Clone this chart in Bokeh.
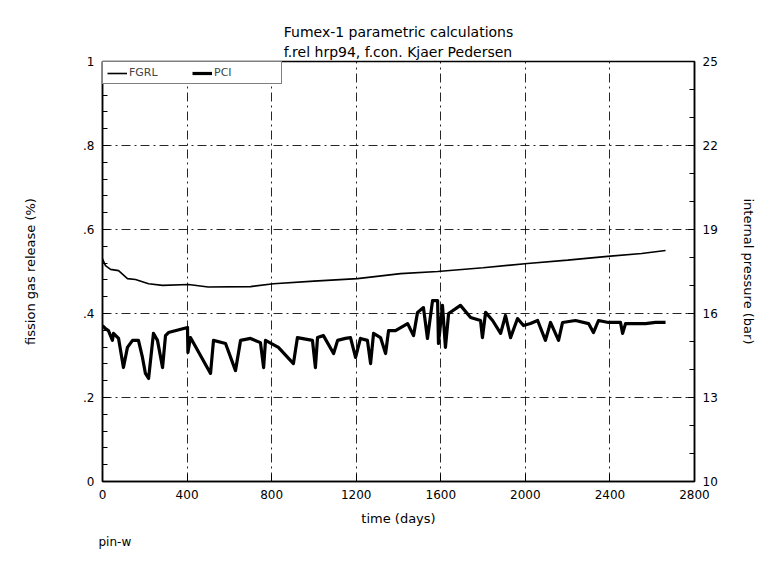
import numpy as np
from bokeh.plotting import figure
from bokeh.models import (Range1d, LinearAxis, FixedTicker, CustomJSTickFormatter,
                          Legend, LegendItem, Title)
from bokeh.embed import file_html
from bokeh.resources import INLINE

# ---------------- data ----------------
fgr_days = [0, 14, 38, 76, 118, 156, 218, 284, 407, 500, 700, 809, 1000, 1206,
            1410, 1585, 1800, 2010, 2200, 2389, 2550, 2663]
fgr_pct = [0.53, 0.514, 0.505, 0.502, 0.483, 0.481, 0.471, 0.467, 0.469, 0.463,
           0.464, 0.471, 0.477, 0.483, 0.495, 0.500, 0.509, 0.519, 0.527, 0.536,
           0.543, 0.550]

pci_days = [0, 14, 28, 47, 52, 76, 99, 118, 142, 170, 189, 203, 218, 241, 260, 284,
            298, 312, 402, 404, 416, 511, 525, 582, 629, 653, 700, 747, 762, 771,
            832, 903, 922, 993, 1007, 1017, 1045, 1093, 1112, 1149, 1173, 1197,
            1220, 1253, 1268, 1282, 1315, 1339, 1353, 1386, 1443, 1471, 1490,
            1518, 1537, 1561, 1585, 1589, 1608, 1622, 1637, 1693, 1741, 1788,
            1797, 1812, 1845, 1883, 1906, 1930, 1963, 1991, 2024, 2058, 2095,
            2119, 2157, 2176, 2237, 2299, 2322, 2346, 2393, 2450, 2460, 2474,
            2568, 2616, 2663]
pci_bar = [15.57, 15.46, 15.39, 15.04, 15.29, 15.11, 14.07, 14.79, 15.04, 15.04,
           14.43, 13.86, 13.68, 15.29, 15.04, 14.07, 15.21, 15.32, 15.50, 14.61,
           15.14, 13.86, 15.04, 14.93, 13.96, 15.04, 15.11, 14.96, 14.07, 15.04,
           14.79, 14.21, 15.14, 15.04, 14.07, 15.14, 15.21, 14.57, 15.04, 15.11,
           15.14, 14.43, 15.11, 15.04, 14.21, 15.29, 15.14, 14.57, 15.39, 15.39,
           15.64, 15.21, 16.04, 16.21, 15.11, 16.46, 16.46, 14.93, 16.29, 14.79,
           16.00, 16.29, 15.86, 15.75, 15.14, 16.04, 15.75, 15.29, 15.93, 15.14,
           15.82, 15.57, 15.64, 15.75, 15.04, 15.68, 15.04, 15.68, 15.75, 15.64,
           15.32, 15.75, 15.68, 15.68, 15.29, 15.64, 15.64, 15.68, 15.68]

x_ticks = [0, 400, 800, 1200, 1600, 2000, 2400, 2800]
left_ticks = [0, 0.2, 0.4, 0.6, 0.8, 1.0]
right_ticks = [10, 13, 16, 19, 22, 25]

FONT = "DejaVu Sans"

p = figure(width=773, height=563, output_backend="svg", toolbar_location=None,
           x_range=Range1d(0, 2800), y_range=Range1d(0, 1),
           min_border_left=102, min_border_right=79, min_border_top=61,
           min_border_bottom=82)
p.background_fill_color = "white"
p.border_fill_color = "white"
p.outline_line_color = "black"
p.outline_line_width = 1.5

p.title.text = "Fumex-1 parametric calculations\nf.rel hrp94, f.con. Kjaer Pedersen"
p.title.align = "center"
p.title.text_font = FONT
p.title.text_font_size = "14px"
p.title.text_font_style = "normal"
p.title.text_color = "black"
p.title.text_line_height = 1.25
p.title.standoff = 4

p.extra_y_ranges = {"p": Range1d(10, 25)}

# axes
xa = p.xaxis[0]
xa.ticker = FixedTicker(ticks=x_ticks)
xa.axis_label = "time (days)"
ya = p.yaxis[0]
ya.ticker = FixedTicker(ticks=left_ticks, minor_ticks=list(np.round(np.arange(0, 1.0001, 0.04), 3)))
ya.formatter = CustomJSTickFormatter(code="""
    if (Math.abs(tick) < 1e-9) return "0";
    if (Math.abs(tick - 1) < 1e-9) return "1";
    return tick.toFixed(1).replace(/^0/, "");
""")
ya.axis_label = "fission gas release (%)"

ra = LinearAxis(y_range_name="p", axis_label="internal pressure (bar)",
                ticker=FixedTicker(ticks=right_ticks, minor_ticks=list(range(10, 26))))
p.add_layout(ra, "right")

for ax in (xa, ya, ra):
    ax.axis_line_color = "black"
    ax.axis_line_width = 1.5
    ax.major_tick_in = 7
    ax.major_tick_out = 0
    ax.minor_tick_in = 5
    ax.minor_tick_out = 0
    ax.major_tick_line_color = "black"
    ax.minor_tick_line_color = "black"
    ax.major_label_text_font = FONT
    ax.major_label_text_font_size = "12px"
    ax.major_label_text_color = "black"
    ax.axis_label_text_font = FONT
    ax.axis_label_text_font_size = "13px"
    ax.axis_label_text_font_style = "normal"
    ax.axis_label_text_color = "black"
xa.minor_tick_in = 0
xa.major_label_standoff = 8
xa.axis_label_standoff = 9
ya.major_label_standoff = 8
ya.axis_label_standoff = 42
ra.major_label_standoff = 8
ra.axis_label_standoff = 20

for g in (p.xgrid[0], p.ygrid[0]):
    g.grid_line_color = "black"
    g.grid_line_alpha = 0.85
    g.grid_line_dash = "9 4 2 4"
    g.grid_line_width = 1

r1 = p.line(fgr_days, fgr_pct, line_color="black", line_width=1.6)
r2 = p.line(pci_days, pci_bar, y_range_name="p", line_color="black", line_width=3.2,
            line_join="round")

legend = Legend(items=[LegendItem(label="FGRL", renderers=[r1]),
                       LegendItem(label="PCI", renderers=[r2])],
                orientation="horizontal", location="top_left",
                margin=0, padding=4, spacing=0, glyph_width=20, glyph_height=10,
                label_width=63, label_height=10,
                label_text_font=FONT, label_text_font_size="11px",
                label_standoff=2,
                border_line_color="black", border_line_width=1.2,
                background_fill_alpha=1.0)
p.add_layout(legend, "center")

foot = Title(text="pin-w", align="left", text_font=FONT, text_font_size="12px",
             text_font_style="normal", text_color="black", offset=-4, standoff=8)
p.add_layout(foot, "below")

open("out.html", "w").write(file_html(p, INLINE))
